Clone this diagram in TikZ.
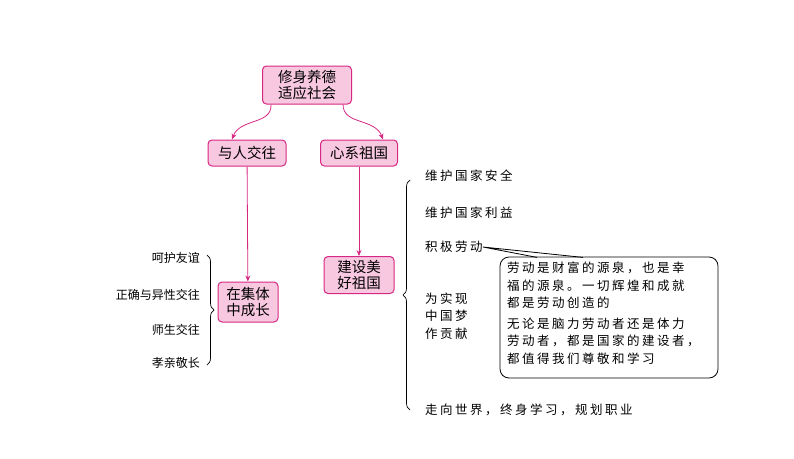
\documentclass[tikz,border=0pt]{standalone}
\usepackage{fontspec}
\setmainfont{Noto Sans CJK SC}
\newfontfamily\spc[LetterSpace=20]{Noto Sans CJK SC}
\usetikzlibrary{decorations.pathreplacing,arrows.meta}
\definecolor{pk}{RGB}{247,200,224}
\definecolor{mg}{RGB}{214,40,130}
\begin{document}
\begin{tikzpicture}[x=1pt,y=-1pt,
  pbox/.style={draw=mg,fill=pk,rounded corners=4pt,line width=1pt,font=\fontsize{14.5}{16}\selectfont,align=center,inner sep=2pt},
  con/.style={draw=mg,line width=0.8pt,-{Stealth[length=6pt,width=5pt]}},
  tx/.style={font=\fontsize{12}{14}\selectfont,inner sep=0pt},
  rtx/.style={font=\spc\fontsize{12.5}{17.5}\selectfont,inner sep=0pt},
  br/.style={decorate,decoration={brace,amplitude=7pt},line width=0.7pt}]
\useasboundingbox (0,0) rectangle (794,458);
\node[pbox,minimum width=89pt,minimum height=38pt] (top) at (307,85) {修身养德\\适应社会};
\node[pbox,minimum width=78pt,minimum height=26pt] (a) at (247,153) {与人交往};
\node[pbox,minimum width=77pt,minimum height=26pt] (b) at (359,153) {心系祖国};
\node[pbox,minimum width=60pt,minimum height=40pt] (c) at (248,302) {在集体\\中成长};
\node[pbox,minimum width=70pt,minimum height=37pt] (d) at (359,275) {建设美\\好祖国};
\draw[con] (top.south west)++(9,0) .. controls (272,125) and (240,118) .. (a.north west -| 232,0);
\draw[con] (top.south east)++(-9,0) .. controls (343,125) and (375,118) .. (b.north east -| 383,0);
\draw[con] (a) -- (c);
\draw[con] (b) -- (d);
% left side
\draw[br] (207,255) -- (207,365);
\node[tx,anchor=east] (l1) at (200,258) {呵护友谊};
\node[tx,anchor=east] (l2) at (200,295) {正确与异性交往};
\node[tx,anchor=east] (l3) at (200,330) {师生交往};
\node[tx,anchor=east] (l4) at (200,363) {孝亲敬长};
% right side
\draw[br] (410,410) -- (410,180);
\node[rtx,anchor=west] (r1) at (425,176) {维护国家安全};
\node[rtx,anchor=west] (r2) at (425,213) {维护国家利益};
\node[rtx,anchor=west] (r3) at (425,247) {积极劳动};
\node[rtx,anchor=west,align=left] (r4) at (425,316) {为实现\\中国梦\\作贡献};
\node[rtx,anchor=west] (r5) at (425,410) {走向世界，终身学习，规划职业};
\node[draw,line width=0.8pt,rounded corners=9pt,minimum width=218pt,minimum height=121pt] (bub) at (609,317.5) {};
\node[rtx,anchor=north west,align=left] (bt) at (507,262) {劳动是财富的源泉，也是幸\\福的源泉。一切辉煌和成就\\都是劳动创造的\\[3pt]无论是脑力劳动者还是体力\\劳动者，都是国家的建设者，\\都值得我们尊敬和学习};
\fill[white] (535,256) -- (r3.east) -- (585,256) -- cycle;
\draw[line width=0.8pt] (537,257.4) -- (r3.east) -- (583,257.4);
\end{tikzpicture}
\end{document}
